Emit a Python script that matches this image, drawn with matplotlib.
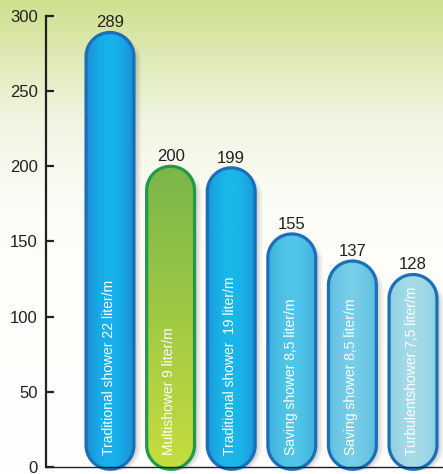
import numpy as np
import matplotlib.pyplot as plt
from matplotlib.path import Path
from matplotlib.patches import PathPatch
from matplotlib.colors import LinearSegmentedColormap

# datos
etiquetas = ['Traditional shower 22 liter/m', 'Multishower 9 liter/m',
             'Traditional shower  19 liter/m', 'Saving shower 8,5 liter/m',
             'Saving shower 8,5 liter/m', 'Turbulentshower 7,5 liter/m']
valores = [289, 200, 199, 155, 137, 128]

# colores: (borde, centro) para las barras azules, la verde va en vertical
bordes = ['#1a6fb8', '#1e9a48', '#1a6fb8', '#1a6fb8', '#1a6fb8', '#1a6fb8']
relleno = [('#1c8ed6', '#16b2ec'), ('#7ab64a', '#c6dd3e'), ('#1a98da', '#1ab8ea'),
           ('#3bb0dc', '#52c6e8'), ('#5cbcde', '#76cee8'), ('#8ccfe2', '#a6dbe8')]

plt.rcParams['font.family'] = ['Liberation Sans', 'DejaVu Sans']

fig = plt.figure(figsize=(4.43, 4.74), dpi=100)

# fondo degradado verde -> blanco
fondo = fig.add_axes([0, 0, 1, 1], zorder=0)
fondo.axis('off')
grad = np.linspace(0, 1, 256).reshape(-1, 1)
cmap_fondo = LinearSegmentedColormap.from_list(
    'f', [(0, '#cfe08d'), (0.25, '#f1f5e2'), (0.45, '#fdfdf8'), (1, '#ffffff')])
fondo.imshow(grad, aspect='auto', cmap=cmap_fondo, extent=[0, 1, 0, 1])
fondo.set_xlim(0, 1)
fondo.set_ylim(0, 1)

ax = fig.add_axes([0.1038, 0.0148, 0.8962, 0.9515], zorder=1)
ax.patch.set_alpha(0)
x = np.arange(len(valores))
ax.set_xlim(-1.056, 5.495)
ax.set_ylim(0, 300)

# relacion de escala para que las puntas sean circulares
fig.canvas.draw()
p0 = ax.transData.transform((0, 0))
p1 = ax.transData.transform((1, 1))
escala = (p1[0] - p0[0]) / (p1[1] - p0[1])

ancho = 0.79
rx = ancho / 2
ry = rx * escala


def capsula(xc, y0, y1, dx=0.0, dy=0.0):
    t = np.linspace(0, np.pi, 50)
    arriba = np.column_stack([xc + dx + rx * np.cos(t), y1 - ry + dy + ry * np.sin(t)])
    t = np.linspace(np.pi, 2 * np.pi, 50)
    abajo = np.column_stack([xc + dx + rx * np.cos(t), y0 + ry + dy + ry * np.sin(t)])
    pts = np.vstack([arriba, abajo, arriba[:1]])
    codes = [Path.MOVETO] + [Path.LINETO] * (len(pts) - 2) + [Path.CLOSEPOLY]
    return Path(pts, codes)


base = -1.5
for i, v in enumerate(valores):
    # sombra
    for k, a in enumerate([0.04, 0.06, 0.08]):
        s = PathPatch(capsula(x[i], base - 1, v - 3, dx=0.05 + 0.035 * (2 - k)),
                      facecolor='#000000', edgecolor='none', alpha=a,
                      clip_on=False, zorder=2)
        ax.add_patch(s)
    p = PathPatch(capsula(x[i], base, v), facecolor='none', edgecolor=bordes[i],
                  lw=2.3, clip_on=False, zorder=4)
    ax.add_patch(p)
    c1, c2 = relleno[i]
    if i == 1:
        g = np.linspace(0, 1, 256).reshape(-1, 1)
        cm = LinearSegmentedColormap.from_list('g', [c1, c2])
    else:
        g = np.sin(np.linspace(0, np.pi, 256)).reshape(1, -1)
        cm = LinearSegmentedColormap.from_list('b', [c1, c2])
    im = ax.imshow(g, aspect='auto', cmap=cm, extent=[x[i] - rx, x[i] + rx, base, v],
                   zorder=3)
    im.set_clip_path(p)
    im.set_clip_box(None)
    ax.text(x[i] - 0.02, 8, etiquetas[i], rotation=90, ha='center', va='bottom',
            color='white', fontsize=10, zorder=5)
    ax.text(x[i], v + 3.5, str(v), ha='center', va='baseline',
            color='#231f20', fontsize=12, zorder=5)

ax.set_xlim(-1.056, 5.495)
ax.set_ylim(0, 300)
ax.set_yticks(np.arange(0, 301, 50))
ax.set_xticks([])
ax.spines['top'].set_visible(False)
ax.spines['right'].set_visible(False)
ax.spines['left'].set_linewidth(1.6)
ax.spines['left'].set_color('#231f20')
ax.spines['bottom'].set_linewidth(1.0)
ax.spines['bottom'].set_color('#231f20')
ax.spines['bottom'].set_zorder(6)
ax.tick_params(axis='y', direction='in', length=6, width=1.6, color='#231f20',
               labelsize=12, labelcolor='#231f20', pad=6)

fig.savefig('out.png', dpi=100)
